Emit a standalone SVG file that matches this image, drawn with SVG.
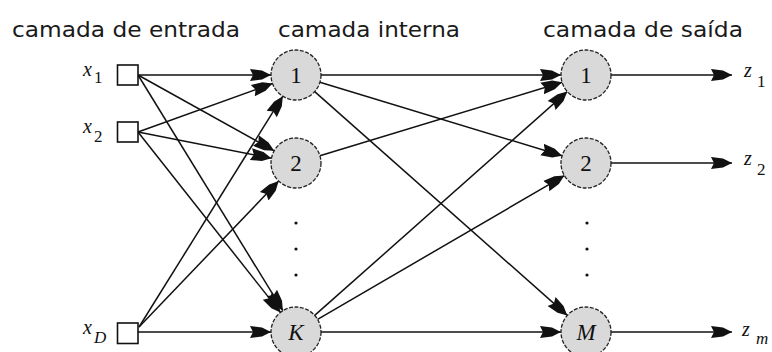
<svg xmlns="http://www.w3.org/2000/svg" width="772" height="352" viewBox="0 0 772 352">
<style>
.title{font-family:"DejaVu Sans","Liberation Sans",Arial,sans-serif;font-size:21px;fill:#1a1a1a}
.lbl{font-family:"Liberation Serif","Times New Roman",serif;font-style:italic;font-size:20px;fill:#111}
.sub{font-family:"Liberation Serif","Times New Roman",serif;font-size:17px;fill:#111}
.subi{font-family:"Liberation Serif","Times New Roman",serif;font-style:italic;font-size:17px;fill:#111}
.num{font-family:"Liberation Serif","Times New Roman",serif;font-size:23px;fill:#111;text-anchor:middle}
.numi{font-family:"Liberation Serif","Times New Roman",serif;font-style:italic;font-size:23px;fill:#111;text-anchor:middle}
.node{fill:#d9d9d9;stroke:#222;stroke-width:1.3;stroke-dasharray:4 1.5}
.box{fill:#fff;stroke:#111;stroke-width:1.6}
.edge{stroke:#111;stroke-width:1.5;fill:none;marker-end:url(#arr)}
.dot{fill:#111}
</style>
<defs>
<marker id="arr" markerUnits="userSpaceOnUse" markerWidth="24" markerHeight="14" viewBox="0 -7 24 14" refX="21" refY="0" orient="auto">
<path d="M0,-6 L12,-4.5 L21,0 L12,4.5 L0,6 L3,0 z" fill="#111"/>
</marker>
</defs>

<text class="title" x="12" y="37" textLength="228" lengthAdjust="spacingAndGlyphs">camada de entrada</text>
<text class="title" x="278" y="37" textLength="182" lengthAdjust="spacingAndGlyphs">camada interna</text>
<text class="title" x="543" y="37" textLength="200" lengthAdjust="spacingAndGlyphs">camada de saída</text>

<g id="connectors">
<line class="edge" x1="138" y1="75" x2="271" y2="75"/>
<line class="edge" x1="138" y1="75" x2="274.2" y2="150.8"/>
<line class="edge" x1="138" y1="75" x2="282.9" y2="310.7"/>
<line class="edge" x1="138" y1="132" x2="272.5" y2="83.5"/>
<line class="edge" x1="138" y1="132" x2="271.5" y2="158.2"/>
<line class="edge" x1="138" y1="132" x2="280.5" y2="312.4"/>
<line class="edge" x1="139" y1="327" x2="282.8" y2="96.2"/>
<line class="edge" x1="139" y1="327" x2="278.7" y2="181.1"/>
<line class="edge" x1="138" y1="332" x2="271" y2="332"/>
<line class="edge" x1="321" y1="75" x2="561" y2="75"/>
<line class="edge" x1="319.9" y1="82.3" x2="562.1" y2="155.7"/>
<line class="edge" x1="314.7" y1="91.6" x2="567.3" y2="315.4"/>
<line class="edge" x1="319.9" y1="155.7" x2="562.1" y2="82.3"/>
<line class="edge" x1="314.7" y1="315.4" x2="567.3" y2="91.6"/>
<line class="edge" x1="317.6" y1="319.4" x2="564.4" y2="175.6"/>
<line class="edge" x1="321" y1="332" x2="561" y2="332"/>
<line class="edge" x1="611" y1="75" x2="732" y2="75"/>
<line class="edge" x1="611" y1="163" x2="732" y2="163"/>
<line class="edge" x1="611" y1="332" x2="732" y2="332"/>
</g>

<g id="in-x1">
<rect class="box" x="117.5" y="65" width="20.5" height="20"/>
<text class="lbl" x="83" y="76">x</text><text class="sub" x="94" y="83">1</text>
</g>
<g id="in-x2">
<rect class="box" x="117.5" y="122" width="20.5" height="20"/>
<text class="lbl" x="83" y="133">x</text><text class="sub" x="94" y="142">2</text>
</g>
<g id="in-xD">
<rect class="box" x="117.5" y="323" width="20.5" height="20.5"/>
<text class="lbl" x="83" y="334">x</text><text class="subi" x="94" y="343">D</text>
</g>

<g id="h1"><circle class="node" cx="296" cy="75" r="25"/><text class="num" x="296" y="83">1</text></g>
<g id="h2"><circle class="node" cx="296" cy="163" r="25"/><text class="num" x="296" y="171">2</text></g>
<g id="hdots"><circle class="dot" cx="296" cy="223" r="1.6"/><circle class="dot" cx="296" cy="249" r="1.6"/><circle class="dot" cx="296" cy="275" r="1.6"/></g>
<g id="hK"><circle class="node" cx="296" cy="332" r="25"/><text class="numi" x="296" y="340">K</text></g>

<g id="o1"><circle class="node" cx="586" cy="75" r="25"/><text class="num" x="586" y="83">1</text></g>
<g id="o2"><circle class="node" cx="586" cy="163" r="25"/><text class="num" x="586" y="171">2</text></g>
<g id="odots"><circle class="dot" cx="587" cy="223" r="1.6"/><circle class="dot" cx="587" cy="249" r="1.6"/><circle class="dot" cx="587" cy="275" r="1.6"/></g>
<g id="oM"><circle class="node" cx="586" cy="332" r="25"/><text class="numi" x="586" y="340">M</text></g>

<g id="out-z1"><text class="lbl" x="744" y="77">z</text><text class="sub" x="757" y="87">1</text></g>
<g id="out-z2"><text class="lbl" x="744" y="165">z</text><text class="sub" x="757" y="175">2</text></g>
<g id="out-zm"><text class="lbl" x="742" y="336">z</text><text class="subi" x="756" y="344">m</text></g>
</svg>
